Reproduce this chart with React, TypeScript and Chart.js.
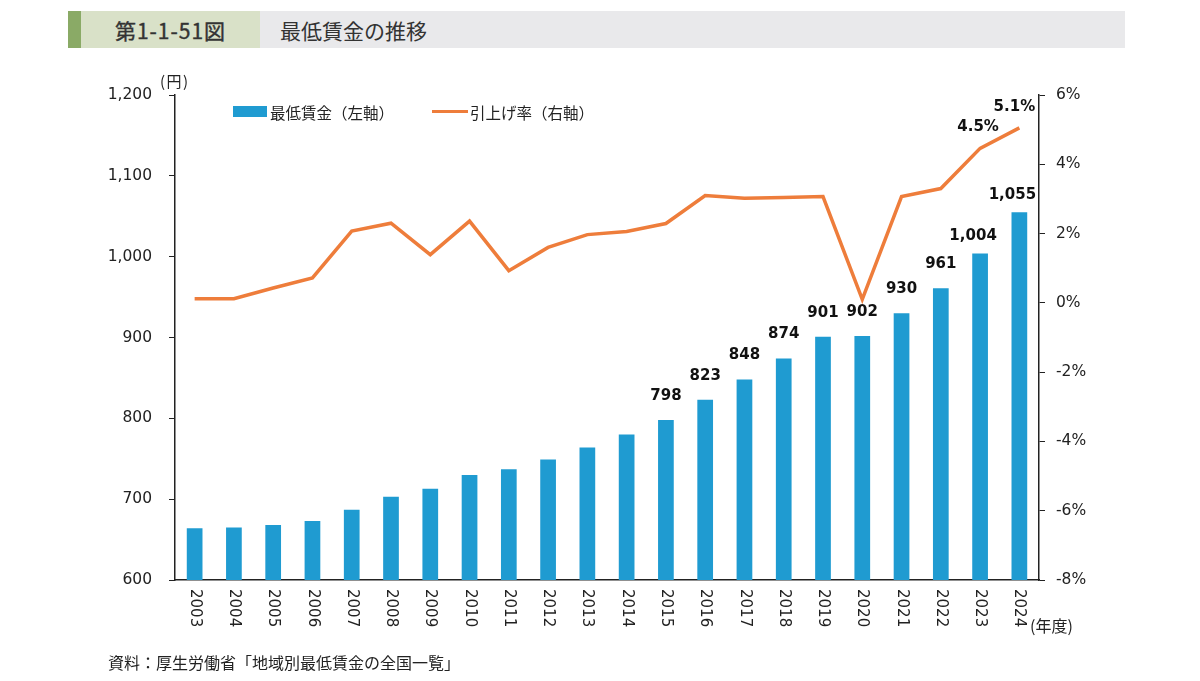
import React, { useEffect, useRef } from 'react';
import Chart from 'chart.js/auto';
import type { Plugin } from 'chart.js';

// 年度
const years: string[] = [
    '2003', '2004', '2005', '2006', '2007', '2008', '2009', '2010', '2011', '2012', '2013',
    '2014', '2015', '2016', '2017', '2018', '2019', '2020', '2021', '2022', '2023', '2024'
];

// 最低賃金（円）
const wages: number[] = [
    664, 665, 668, 673, 687, 703, 713, 730, 737, 749, 764,
    780, 798, 823, 848, 874, 901, 902, 930, 961, 1004, 1055
];

// 引上げ率（%）
const raiseRates: number[] = [
    0.12, 0.12, 0.43, 0.72, 2.07, 2.3, 1.39, 2.36, 0.93, 1.6, 1.97,
    2.06, 2.29, 3.1, 3.02, 3.04, 3.07, 0.1, 3.07, 3.3, 4.46, 5.05
];

// ラベルを表示する年度
const wageLabelFrom = '2015';
const rateLabelYears: string[] = ['2023', '2024'];
const rateLabelText: string[] = ['4.5%', '5.1%'];

const NUM_FONT = '"DejaVu Sans", Verdana, sans-serif';
const JP_FONT = '"Noto Sans CJK JP", "Noto Sans", sans-serif';

// x軸ラベル（時計回りに90度回転）と値ラベル
const labelsPlugin: Plugin = {
    id: 'customLabels',
    afterDraw(chart: any) {
        const ctx = chart.ctx;
        const xScale = chart.scales.x;
        ctx.save();
        ctx.fillStyle = '#222';
        ctx.font = `15px ${NUM_FONT}`;
        ctx.textAlign = 'left';
        ctx.textBaseline = 'middle';
        years.forEach((y, i) => {
            const x = xScale.getPixelForValue(i);
            ctx.save();
            ctx.translate(x, chart.chartArea.bottom + 9);
            ctx.rotate(Math.PI / 2);
            ctx.fillText(y, 0, 0);
            ctx.restore();
        });

        ctx.font = `bold 15px ${NUM_FONT}`;
        ctx.textAlign = 'center';
        ctx.fillStyle = '#111';
        const barMeta = chart.getDatasetMeta(1);
        const start = years.indexOf(wageLabelFrom);
        barMeta.data.forEach((bar: any, i: number) => {
            if (i < start) return;
            // 4桁のラベルは少し左上寄せ
            const wide = wages[i] >= 1000;
            ctx.fillText(wages[i].toLocaleString('en-US'), bar.x - (wide ? 7 : 0), bar.y - (wide ? 17 : 24));
        });

        const lineMeta = chart.getDatasetMeta(0);
        rateLabelYears.forEach((yr, k) => {
            const pt = lineMeta.data[years.indexOf(yr)];
            ctx.fillText(rateLabelText[k], pt.x - (k === 0 ? 2 : 5), pt.y - 21);
        });
        ctx.restore();
    }
};

const App: React.FC = () => {
    const canvasRef = useRef<HTMLCanvasElement | null>(null);

    useEffect(() => {
        document.body.style.margin = '0';
        const ctx = canvasRef.current?.getContext('2d');
        if (!ctx) return;

        const chart = new Chart(ctx, {
            type: 'bar',
            data: {
                labels: years,
                datasets: [
                    {
                        type: 'line',
                        label: '引上げ率（右軸）',
                        data: raiseRates,
                        yAxisID: 'y1',
                        borderColor: '#ee7d3b',
                        borderWidth: 3.5,
                        pointRadius: 0,
                        tension: 0,
                        order: 0
                    },
                    {
                        type: 'bar',
                        label: '最低賃金（左軸）',
                        data: wages,
                        yAxisID: 'y',
                        backgroundColor: '#1f9bd1',
                        barPercentage: 0.8,
                        categoryPercentage: 0.5,
                        order: 1
                    }
                ] as any
            },
            options: {
                animation: false,
                responsive: true,
                maintainAspectRatio: false,
                layout: { padding: { top: 95, left: 0, right: 0, bottom: 0 } },
                plugins: {
                    legend: { display: false },
                    tooltip: { enabled: false }
                },
                scales: {
                    x: {
                        ticks: { display: false },
                        grid: { display: false },
                        border: { display: true, color: '#222', width: 1.5 },
                        afterFit: (s: any) => { s.height = 101; }
                    },
                    y: {
                        position: 'left',
                        min: 600,
                        max: 1200,
                        ticks: {
                            stepSize: 100,
                            padding: 17,
                            color: '#222',
                            font: { family: NUM_FONT, size: 15.5 },
                            callback: (v: any) => Number(v).toLocaleString('en-US')
                        },
                        grid: { drawOnChartArea: false, drawTicks: true, tickLength: 6, color: '#222' },
                        border: { display: true, color: '#222', width: 1.5 },
                        afterFit: (s: any) => { s.width = 175; }
                    },
                    y1: {
                        position: 'right',
                        min: -8,
                        max: 6,
                        ticks: {
                            stepSize: 2,
                            padding: 11,
                            color: '#222',
                            font: { family: NUM_FONT, size: 15.5 },
                            callback: (v: any) => `${v}%`
                        },
                        grid: { drawOnChartArea: false, drawTicks: true, tickLength: 6, color: '#222' },
                        border: { display: true, color: '#222', width: 1.5 },
                        afterFit: (s: any) => { s.width = 161; }
                    }
                }
            },
            plugins: [labelsPlugin]
        });

        return () => chart.destroy();
    }, []);

    return (
        <div style={{ position: 'relative', width: 1200, height: 681, background: '#fff', fontFamily: JP_FONT, color: '#222' }}>
            {/* 見出し */}
            <div style={{ position: 'absolute', left: 68, top: 11, width: 13, height: 37, background: '#8aaa66' }} />
            <div style={{ position: 'absolute', left: 81, top: 11, width: 179, height: 37, background: '#d9e1c8', display: 'flex', alignItems: 'center', justifyContent: 'center', fontSize: 21, fontWeight: 'normal', letterSpacing: 1, color: '#333', WebkitTextStroke: '0.4px #333' }}>
                第1-1-51図
            </div>
            <div style={{ position: 'absolute', left: 260, top: 11, width: 865, height: 37, background: '#e9e9eb', display: 'flex', alignItems: 'center', fontSize: 21, color: '#333' }}>
                <span style={{ marginLeft: 20 }}>最低賃金の推移</span>
            </div>

            <div style={{ position: 'absolute', left: 0, top: 0, width: 1200, height: 681 }}>
                <canvas ref={canvasRef} />
            </div>

            {/* 単位 */}
            <div style={{ position: 'absolute', left: 160, top: 71, fontSize: 15, letterSpacing: 1.5, lineHeight: '20px' }}>(円)</div>
            <div style={{ position: 'absolute', left: 1030, top: 614, fontSize: 16, lineHeight: '22px' }}>(年度)</div>

            {/* 凡例 */}
            <div style={{ position: 'absolute', left: 233, top: 106, width: 34, height: 11, background: '#1f9bd1' }} />
            <div style={{ position: 'absolute', left: 270, top: 101, fontSize: 15.5, lineHeight: '22px' }}>最低賃金（左軸）</div>
            <div style={{ position: 'absolute', left: 432, top: 110, width: 36, height: 3, background: '#ee7d3b' }} />
            <div style={{ position: 'absolute', left: 470, top: 101, fontSize: 15.5, lineHeight: '22px' }}>引上げ率（右軸）</div>

            {/* 出典 */}
            <div style={{ position: 'absolute', left: 108, top: 651, fontSize: 16, lineHeight: '22px' }}>
                資料：厚生労働省「地域別最低賃金の全国一覧」
            </div>
        </div>
    );
};

export default App;
